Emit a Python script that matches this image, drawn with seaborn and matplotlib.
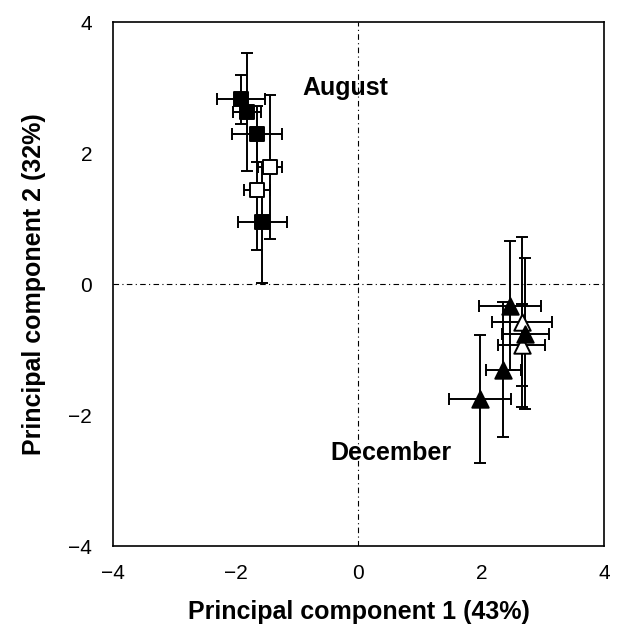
import pandas as pd
import seaborn as sns
import matplotlib
matplotlib.use("Agg")
import matplotlib.pyplot as plt

# August samples (squares) and December samples (triangles)
month = ["August"] * 6 + ["December"] * 6
filled = [True, True, True, False, False, True,
          True, False, True, False, True, True]
pc1 = [-1.91, -1.81, -1.65, -1.44, -1.65, -1.57,
       2.47, 2.67, 2.72, 2.66, 2.36, 1.98]
pc2 = [2.82, 2.63, 2.29, 1.78, 1.44, 0.94,
       -0.33, -0.58, -0.76, -0.93, -1.31, -1.76]
pc1_err = [0.39, 0.23, 0.41, 0.20, 0.21, 0.40,
           0.50, 0.49, 0.39, 0.38, 0.29, 0.50]
pc2_err = [0.37, 0.90, 0.43, 1.10, 0.92, 0.92,
           0.98, 1.30, 1.15, 0.63, 1.03, 0.98]

df = pd.DataFrame({"month": month, "filled": filled, "pc1": pc1, "pc2": pc2,
                   "pc1_err": pc1_err, "pc2_err": pc2_err})

sns.set_style("white")
plt.rcParams['font.family'] = ['Liberation Sans', 'DejaVu Sans']
plt.rcParams['text.color'] = 'black'
plt.rcParams['axes.labelcolor'] = 'black'
plt.rcParams['xtick.color'] = 'black'
plt.rcParams['ytick.color'] = 'black'

fig = plt.figure(figsize=(6.17, 6.39), dpi=100)
ax = fig.add_axes([0.183, 0.1455, 0.796, 0.820])

# reference lines through the origin
ax.axhline(0, color="black", lw=0.8, ls=(0, (5, 3, 1, 3)), zorder=1)
ax.axvline(0, color="black", lw=0.8, ls=(0, (5, 3, 1, 3)), zorder=1)

# error bars first, markers on top
ax.errorbar(df["pc1"], df["pc2"], xerr=df["pc1_err"], yerr=df["pc2_err"],
            fmt="none", ecolor="black", elinewidth=1.4, capsize=4.5,
            capthick=1.4, zorder=2)

markers = {"August": "s", "December": "^"}
sizes = {"August": 95, "December": 140}
for (m, f), grp in df.groupby(["month", "filled"]):
    sns.scatterplot(data=grp, x="pc1", y="pc2", ax=ax, marker=markers[m],
                    s=sizes[m], color="black" if f else "white",
                    edgecolor="black", linewidth=1.4, zorder=3, legend=False)

ax.text(-0.92, 3.0, "August", fontsize=18, fontweight="bold",
        ha="left", va="center")
ax.text(-0.46, -2.58, "December", fontsize=18, fontweight="bold",
        ha="left", va="center")

ax.set_xlim(-4, 4)
ax.set_ylim(-4, 4)
ax.set_xticks([-4, -2, 0, 2, 4])
ax.set_yticks([-4, -2, 0, 2, 4])
ax.tick_params(axis="x", direction="in", length=7, width=1, labelsize=15, pad=13)
ax.tick_params(axis="y", direction="out", length=7, width=1, labelsize=15, pad=8)
for s in ax.spines.values():
    s.set_color("black")
    s.set_linewidth(1.2)

ax.set_xlabel("Principal component 1 (43%)", fontsize=18, fontweight="bold",
              labelpad=12)
ax.set_ylabel("Principal component 2 (32%)", fontsize=18, fontweight="bold",
              labelpad=16)

fig.savefig("out.png", dpi=100)
